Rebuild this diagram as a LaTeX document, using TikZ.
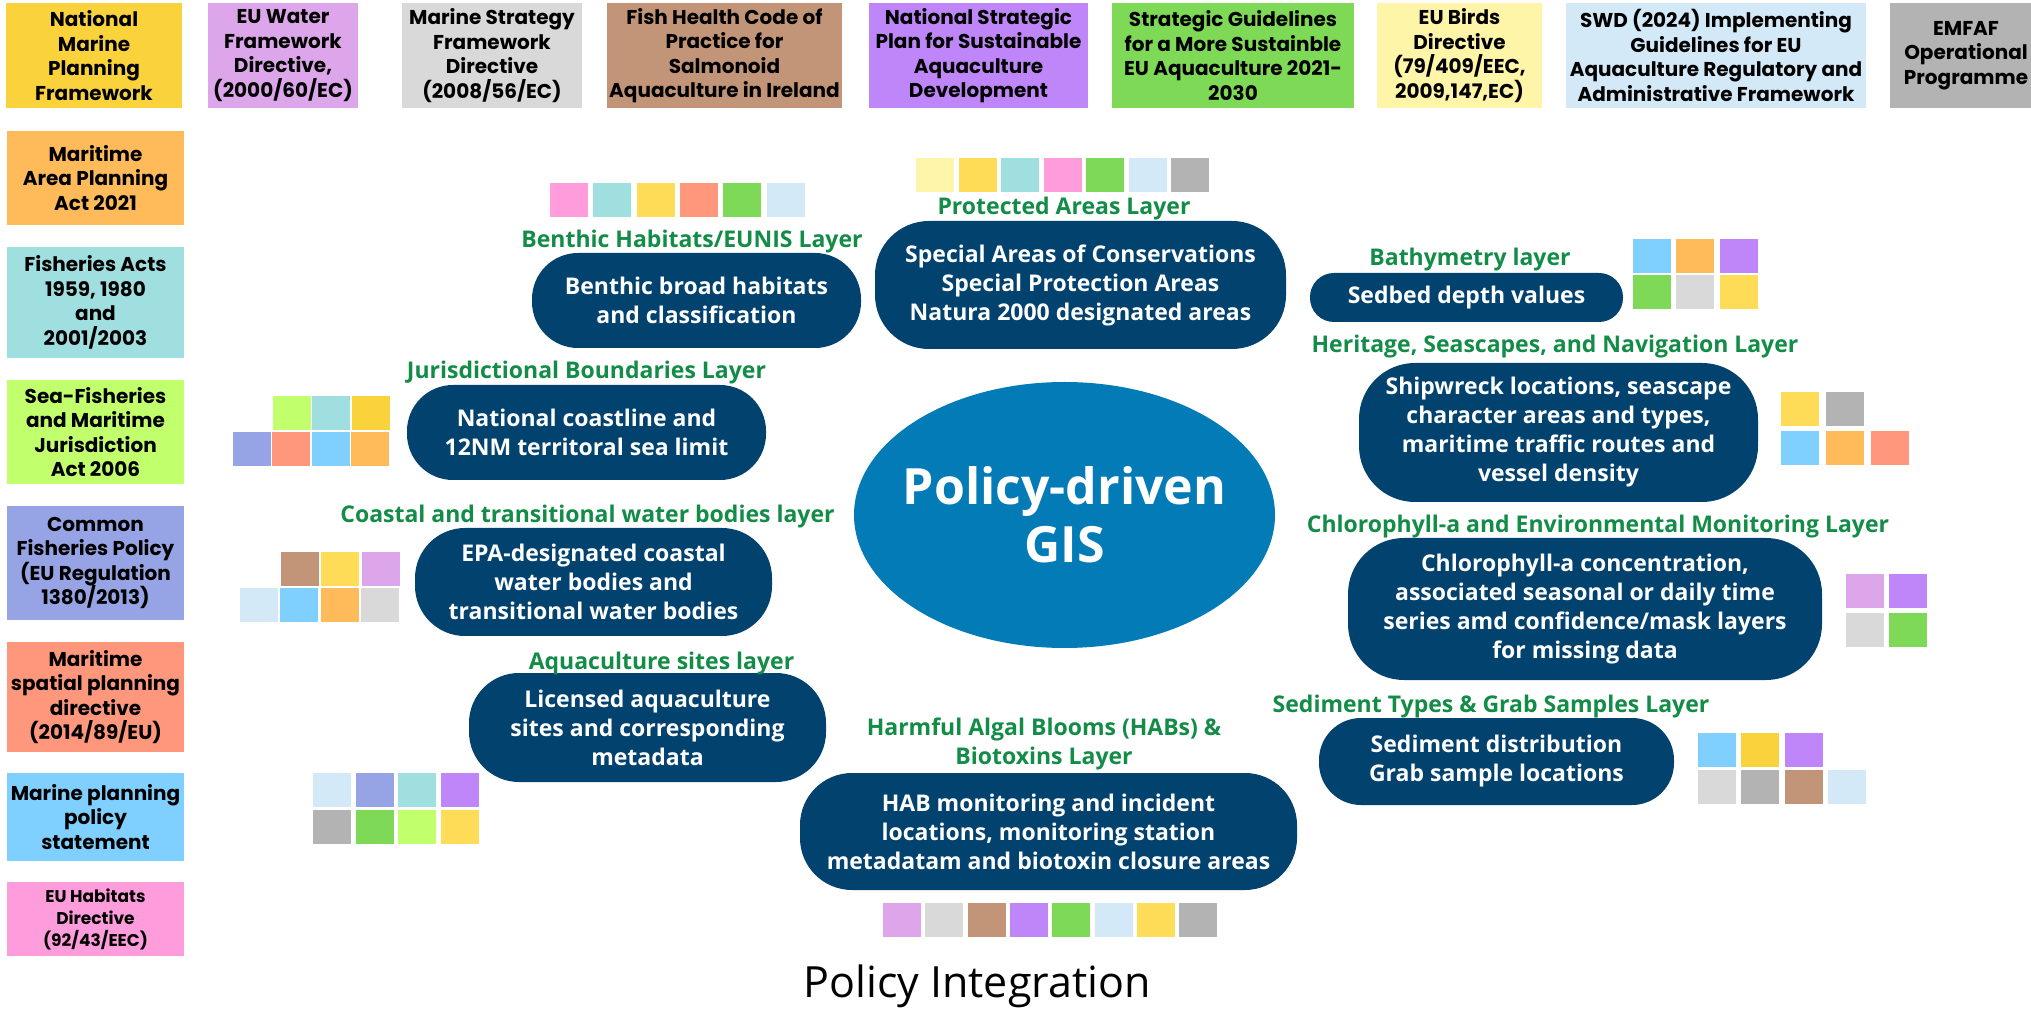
\documentclass[tikz,border=0pt]{standalone}
\usepackage{fontspec}
\setmainfont{Open Sans}
\newfontfamily\boxfont{Poppins}
\definecolor{navy}{HTML}{02426F}
\definecolor{gisblue}{HTML}{027BB7}
\definecolor{taggreen}{HTML}{128C47}
\definecolor{cyellow}{HTML}{F9D23C}
\definecolor{csun}{HTML}{FFDC57}
\definecolor{clavender}{HTML}{DDA5EA}
\definecolor{clightgray}{HTML}{D9D9D9}
\definecolor{ctan}{HTML}{C29578}
\definecolor{cpurple}{HTML}{BF86F9}
\definecolor{cgreen}{HTML}{7ED957}
\definecolor{cpaleyellow}{HTML}{FFF5A8}
\definecolor{cice}{HTML}{D3E9F8}
\definecolor{cgray}{HTML}{B3B3B3}
\definecolor{corange}{HTML}{FFBA5A}
\definecolor{cteal}{HTML}{A0DFE0}
\definecolor{clime}{HTML}{C1FF6C}
\definecolor{cperi}{HTML}{96A3E4}
\definecolor{csalmon}{HTML}{FF977C}
\definecolor{csky}{HTML}{80D0FF}
\definecolor{cpink}{HTML}{FF9CDB}
% one row of colour chips: x, y, pitch, colours
\newcommand{\chiprow}[4]{\foreach \col [count=\i from 0] in {#4}
  \fill[\col] ({#1+#3*\i},#2) rectangle +(38,34);}

\begin{document}
\begin{tikzpicture}[x=0.5pt,y=-0.5pt,
  boxwh/.style 2 args={minimum width=#1*0.5pt, minimum height=#2*0.5pt},
  policy/.style={inner sep=0pt, align=center, font=\boxfont\bfseries\fontsize{10}{12.25}\selectfont},
  layer/.style={fill=navy, text=white, rounded corners=23pt, inner sep=0pt, align=center,
    font=\bfseries\fontsize{11.5}{14.5}\selectfont},
  tag/.style={text=taggreen, inner sep=0pt, align=center, font=\bfseries\fontsize{11.5}{14.5}\selectfont}]
\fill[white] (0,0) rectangle (2031,1010);
\useasboundingbox (0,0) rectangle (2031,1010);

% policies along the top
\node[policy, fill=cyellow, boxwh={176}{105}] (nmpf) at (94,55.5) {National\\Marine\\Planning\\Framework};
\node[policy, fill=clavender, boxwh={150}{105}] (wfd) at (283,55.5) {EU Water\\Framework\\Directive,\\(2000/60/EC)};
\node[policy, fill=clightgray, boxwh={180}{105}] (msfd) at (492,55.5) {Marine Strategy\\Framework\\Directive\\(2008/56/EC)};
\node[policy, fill=ctan, boxwh={235}{105}] (fhc) at (724.5,55.5) {Fish Health Code of\\Practice for\\Salmonoid\\Aquaculture in Ireland};
\node[policy, fill=cpurple, boxwh={219}{105}] (nsp) at (978.5,55.5) {National Strategic\\Plan for Sustainable\\Aquaculture\\Development};
\node[policy, fill=cgreen, boxwh={242}{105}] (sg) at (1233,55.5) {Strategic Guidelines\\for a More Sustainble\\EU Aquaculture 2021-\\2030};
\node[policy, fill=cpaleyellow, boxwh={165}{105}] (birds) at (1459.5,55.5) {EU Birds\\Directive\\(79/409/EEC,\\2009,147,EC)};
\node[policy, fill=cice, boxwh={300}{105}] (swd) at (1716,55.5) {SWD (2024) Implementing\\Guidelines for EU\\Aquaculture Regulatory and\\Administrative Framework};
\node[policy, fill=cgray, boxwh={152}{105}] (emfaf) at (1966,55.5) {EMFAF\\Operational\\Programme};

% policies down the left
\node[policy, fill=corange, boxwh={177}{94}] (mapa) at (95.5,178) {Maritime\\Area Planning\\Act 2021};
\node[policy, fill=cteal, boxwh={177}{111}] (fa) at (95.5,302.5) {Fisheries Acts\\1959, 1980\\and\\2001/2003};
\node[policy, fill=clime, boxwh={177}{104}] (sfa) at (95.5,432) {Sea-Fisheries\\and Maritime\\Jurisdiction\\Act 2006};
\node[policy, fill=cperi, boxwh={177}{114}] (cfp) at (95.5,563) {Common\\Fisheries Policy\\(EU Regulation\\1380/2013)};
\node[policy, fill=csalmon, boxwh={177}{110}] (mspd) at (95.5,697) {Maritime\\spatial planning\\directive\\(2014/89/EU)};
\node[policy, fill=csky, boxwh={177}{88}] (mpps) at (95.5,817) {Marine planning\\policy\\statement};
\node[policy, fill=cpink, boxwh={177}{74}, font=\boxfont\bfseries\fontsize{8.5}{11}\selectfont] (hd) at (95.5,919) {EU Habitats\\Directive\\(92/43/EEC)};

% centre
\fill[gisblue] (1064.5,515) ellipse [x radius=105.25pt, y radius=66.5pt];
\node[text=white, inner sep=0pt, align=center, font=\bfseries\fontsize{25}{29}\selectfont] (gis) at (1064.5,515) {Policy-driven\\GIS};

% layers
\node[layer, boxwh={329}{95}] (benthic) at (696.5,300.5) {Benthic broad habitats\\and classification};
\node[tag] (benthicT) at (692,242) {Benthic Habitats/EUNIS Layer};
\node[layer, boxwh={411}{128}, rounded corners=27pt] (protected) at (1080.5,285) {Special Areas of Conservations\\Special Protection Areas\\Natura 2000 designated areas};
\node[tag] (protectedT) at (1064,209) {Protected Areas Layer};
\node[layer, boxwh={313}{49}, rounded corners=12pt] (bathy) at (1466.5,297.5) {Sedbed depth values};
\node[tag] (bathyT) at (1470,260) {Bathymetry layer};
\node[layer, boxwh={399}{139}, rounded corners=28pt] (heritage) at (1558.5,432.5) {Shipwreck locations, seascape\\character areas and types,\\maritime traffic routes and\\vessel density};
\node[tag] (heritageT) at (1555,347) {Heritage, Seascapes, and Navigation Layer};
\node[layer, boxwh={359}{95}] (juris) at (586.5,432.5) {National coastline and\\12NM territoral sea limit};
\node[tag] (jurisT) at (586.5,373) {Jurisdictional Boundaries Layer};
\node[layer, boxwh={357}{108}, rounded corners=25pt] (coastal) at (593.5,582) {EPA-designated coastal\\water bodies and\\transitional water bodies};
\node[tag] (coastalT) at (587.5,517) {Coastal and transitional water bodies layer};
\node[layer, boxwh={474}{142}, rounded corners=28pt] (chloro) at (1585,609) {Chlorophyll-a concentration,\\associated seasonal or daily time\\series amd confidence/mask layers\\for missing data};
\node[tag] (chloroT) at (1598,527) {Chlorophyll-a and Environmental Monitoring Layer};
\node[layer, boxwh={357}{109}, rounded corners=25pt] (aqua) at (647.5,727.5) {Licensed aquaculture\\sites and corresponding\\metadata};
\node[tag] (aquaT) at (661.5,664) {Aquaculture sites layer};
\node[layer, boxwh={497}{117}, rounded corners=26pt] (hab) at (1048.5,831.5) {HAB monitoring and incident\\locations, monitoring station\\metadatam and biotoxin closure areas};
\node[tag] (habT) at (1044,743.5) {Harmful Algal Blooms (HABs) \&\\Biotoxins Layer};
\node[layer, boxwh={355}{87}, rounded corners=21pt] (sediment) at (1496.5,761.5) {Sediment distribution\\Grab sample locations};
\node[tag] (sedimentT) at (1491,707) {Sediment Types \& Grab Samples Layer};

% colour chips
\chiprow{550}{183}{43.3}{cpink,cteal,csun,csalmon,cgreen,cice}
\chiprow{916}{158}{42.5}{cpaleyellow,csun,cteal,cpink,cgreen,cice,cgray}
\chiprow{1633}{239}{43.3}{csky,corange,cpurple}
\chiprow{1633}{275}{43.3}{cgreen,clightgray,csun}
\chiprow{1781}{392}{45}{csun,cgray}
\chiprow{1781}{431}{45}{csky,corange,csalmon}
\chiprow{273}{396}{39.3}{clime,cteal,cyellow}
\chiprow{233}{432}{39.3}{cperi,csalmon,csky,corange}
\chiprow{281}{552}{40.3}{ctan,csun,clavender}
\chiprow{240}{588}{40.3}{cice,csky,corange,clightgray}
\chiprow{1846}{574}{43}{clavender,cpurple}
\chiprow{1846}{613}{43}{clightgray,cgreen}
\chiprow{313}{773}{42.7}{cice,cperi,cteal,cpurple}
\chiprow{313}{810}{42.7}{cgray,cgreen,clime,csun}
\chiprow{883}{903}{42.35}{clavender,clightgray,ctan,cpurple,cgreen,cice,csun,cgray}
\chiprow{1698}{733}{43.3}{csky,cyellow,cpurple}
\chiprow{1698}{770}{43.3}{clightgray,cgray,ctan,cice}

\node[anchor=base, font=\fontsize{21.5}{26}\selectfont] (caption) at (977,997) {Policy Integration};
\end{tikzpicture}
\end{document}
